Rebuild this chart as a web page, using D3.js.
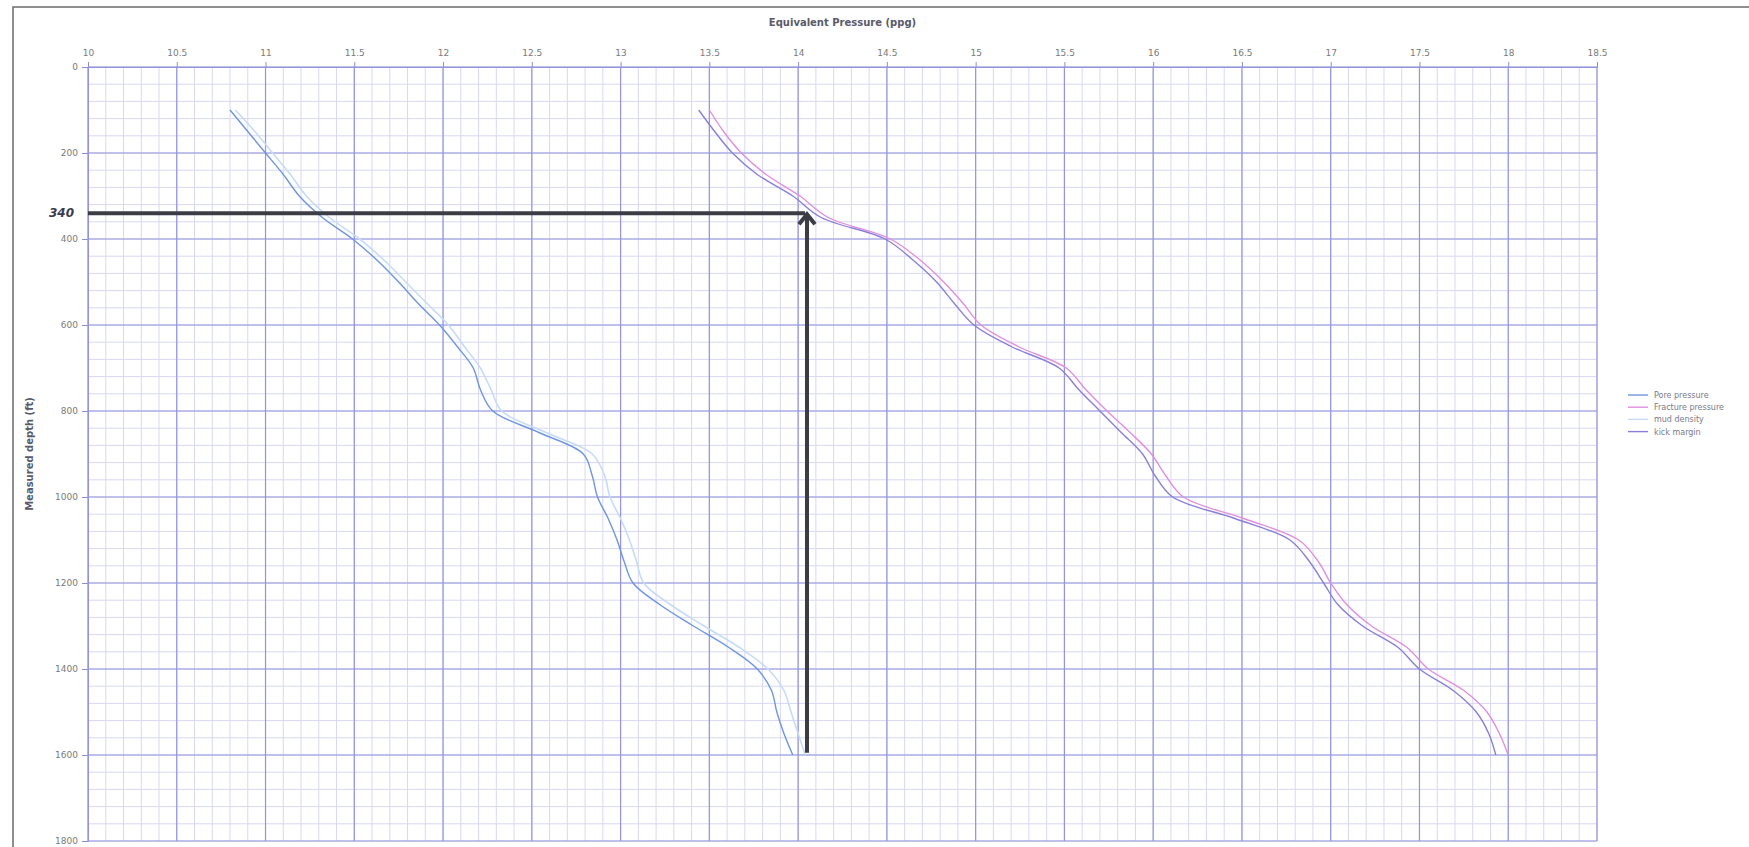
<!DOCTYPE html>
<html>
<head>
<meta charset="utf-8">
<script src="https://cdn.jsdelivr.net/npm/d3@7"></script>
<style>
  body { margin: 0; background: #fff; }
  text { font-family: "DejaVu Sans", sans-serif; }
</style>
</head>
<body>
<script>
// depth (ft) and the four series (ppg)
var depths = [100, 150, 200, 250, 300, 350, 400, 450, 500, 550, 600, 650, 700, 750, 800,
              850, 900, 950, 1000, 1050, 1100, 1150, 1200, 1250, 1300, 1350, 1400, 1450, 1500, 1550, 1600];
var porePressure = [10.80, 10.90, 11.00, 11.10, 11.19, 11.32, 11.49, 11.63, 11.75, 11.86, 11.98, 12.08, 12.17, 12.21, 12.28,
                    12.54, 12.79, 12.84, 12.87, 12.93, 12.98, 13.02, 13.07, 13.22, 13.41, 13.61, 13.77, 13.85, 13.88, 13.92, 13.97];
var mudDensity = [10.83, 10.94, 11.04, 11.14, 11.23, 11.36, 11.53, 11.67, 11.79, 11.91, 12.03, 12.12, 12.21, 12.27, 12.33,
                  12.58, 12.84, 12.91, 12.94, 13.00, 13.05, 13.09, 13.13, 13.28, 13.47, 13.67, 13.83, 13.92, 13.96, 14.00, 14.04];
var fracturePressure = [13.50, 13.58, 13.68, 13.82, 14.01, 14.17, 14.52, 14.69, 14.82, 14.93, 15.03, 15.24, 15.51, 15.62, 15.74,
                        15.87, 15.99, 16.07, 16.17, 16.51, 16.82, 16.93, 17.00, 17.09, 17.23, 17.43, 17.55, 17.75, 17.88, 17.95, 18.00];
var kickMargin = [13.44, 13.53, 13.63, 13.77, 13.97, 14.13, 14.49, 14.65, 14.78, 14.88, 14.99, 15.20, 15.47, 15.58, 15.70,
                  15.82, 15.94, 16.01, 16.11, 16.46, 16.77, 16.88, 16.96, 17.04, 17.18, 17.38, 17.50, 17.69, 17.82, 17.89, 17.93];

var seriesNames = ["Pore pressure", "Fracture pressure", "mud density", "kick margin"];
var seriesColors = ["#6f95e0", "#e08fe0", "#c6dbf6", "#8a7fd8"];

var xTickValues = [10, 10.5, 11, 11.5, 12, 12.5, 13, 13.5, 14, 14.5, 15, 15.5, 16, 16.5, 17, 17.5, 18, 18.5];
var yTickValues = [0, 200, 400, 600, 800, 1000, 1200, 1400, 1600, 1800];

// annotation: read-off at 340 ft
var markDepth = 340;
var markPressure = 14.05;
var markBottom = 1595;

var margin = { top: 67, left: 88, right: 152, bottom: 6 };
var W = 1749, H = 847;
var width = W - margin.left - margin.right;
var height = H - margin.top - margin.bottom;

var svg = d3.select("body").append("svg")
    .attr("width", W)
    .attr("height", H);

// outer chart frame
svg.append("rect")
    .attr("x", 13).attr("y", 7)
    .attr("width", W + 20).attr("height", H + 20)
    .attr("fill", "none")
    .attr("stroke", "#6a6a6a")
    .attr("stroke-width", 1.5);

var g = svg.append("g")
    .attr("transform", "translate(" + margin.left + "," + margin.top + ")");

var x = d3.scaleLinear().domain([10, 18.5]).range([0, width]);
var y = d3.scaleLinear().domain([0, 1800]).range([0, height]);

// minor grid
g.append("g").selectAll("line")
    .data(d3.range(0, 86).map(function(i) { return 10 + i * 0.1; }))
    .enter().append("line")
    .attr("x1", function(d) { return x(d); }).attr("x2", function(d) { return x(d); })
    .attr("y1", 0).attr("y2", height)
    .attr("stroke", "#d8d8f3").attr("stroke-width", 1);
g.append("g").selectAll("line")
    .data(d3.range(0, 46).map(function(i) { return i * 40; }))
    .enter().append("line")
    .attr("y1", function(d) { return y(d); }).attr("y2", function(d) { return y(d); })
    .attr("x1", 0).attr("x2", width)
    .attr("stroke", "#d8d8f3").attr("stroke-width", 1);

// major grid
g.append("g").selectAll("line")
    .data(xTickValues)
    .enter().append("line")
    .attr("x1", function(d) { return x(d); }).attr("x2", function(d) { return x(d); })
    .attr("y1", 0).attr("y2", height)
    .attr("stroke", "#9393e0").attr("stroke-width", 1.2);
g.append("g").selectAll("line")
    .data(yTickValues)
    .enter().append("line")
    .attr("y1", function(d) { return y(d); }).attr("y2", function(d) { return y(d); })
    .attr("x1", 0).attr("x2", width)
    .attr("stroke", "#9393e0").attr("stroke-width", 1.2);

// axes
var xAxis = g.append("g")
    .call(d3.axisTop(x).tickValues(xTickValues).tickSize(5).tickPadding(6).tickFormat(d3.format("")));
var yAxis = g.append("g")
    .call(d3.axisLeft(y).tickValues(yTickValues).tickSize(6).tickPadding(4).tickFormat(d3.format("")));
[xAxis, yAxis].forEach(function(a) {
    a.select(".domain").attr("stroke", "#9393e0");
    a.selectAll(".tick line").attr("stroke", "#8f8fcf");
    a.selectAll("text").attr("fill", "#7a7a7a").attr("font-size", 9)
        .attr("font-family", "DejaVu Sans");
});

// axis titles
svg.append("text")
    .attr("x", margin.left + width / 2).attr("y", 26)
    .attr("text-anchor", "middle")
    .attr("font-size", 10).attr("font-weight", "bold").attr("fill", "#5a5a6a")
    .text("Equivalent Pressure (ppg)");
svg.append("text")
    .attr("transform", "translate(33," + (margin.top + height / 2) + ") rotate(-90)")
    .attr("text-anchor", "middle")
    .attr("font-size", 10).attr("font-weight", "bold").attr("fill", "#5a5a6a")
    .text("Measured depth (ft)");

// series
var series = [porePressure, fracturePressure, mudDensity, kickMargin];
var line = d3.line()
    .x(function(d) { return x(d[1]); })
    .y(function(d) { return y(d[0]); })
    .curve(d3.curveCatmullRom);

// draw light lines first so darker ones sit on top
[2, 1, 3, 0].forEach(function(i) {
    g.append("path")
        .datum(depths.map(function(dp, k) { return [dp, series[i][k]]; }))
        .attr("fill", "none")
        .attr("stroke", seriesColors[i])
        .attr("stroke-width", i === 2 ? 1.6 : 1.4)
        .attr("d", line);
});

// read-off arrows
var ink = "#3c3c44";
g.append("line")
    .attr("x1", x(10)).attr("x2", x(markPressure) - 2)
    .attr("y1", y(markDepth)).attr("y2", y(markDepth))
    .attr("stroke", ink).attr("stroke-width", 4);
g.append("line")
    .attr("x1", x(markPressure)).attr("x2", x(markPressure))
    .attr("y1", y(markBottom)).attr("y2", y(markDepth) + 1)
    .attr("stroke", ink).attr("stroke-width", 4);
g.append("path")
    .attr("d", "M" + (x(markPressure) - 8) + "," + (y(markDepth) + 11) +
               "L" + x(markPressure) + "," + (y(markDepth) + 1) +
               "L" + (x(markPressure) + 8) + "," + (y(markDepth) + 11))
    .attr("fill", "none").attr("stroke", ink).attr("stroke-width", 4)
    .attr("stroke-linejoin", "miter");
svg.append("text")
    .attr("x", 74).attr("y", margin.top + y(markDepth) + 4)
    .attr("text-anchor", "end")
    .attr("font-size", 12).attr("font-style", "italic").attr("font-weight", "bold")
    .attr("fill", "#3c3c50")
    .text(markDepth);

// legend
var legend = svg.append("g").attr("transform", "translate(1628,395)");
seriesNames.forEach(function(name, i) {
    var row = legend.append("g").attr("transform", "translate(0," + (i * 12.2) + ")");
    row.append("line")
        .attr("x1", 0).attr("x2", 20).attr("y1", 0).attr("y2", 0)
        .attr("stroke", seriesColors[i]).attr("stroke-width", 1.4);
    row.append("text")
        .attr("x", 26).attr("y", 3)
        .attr("font-size", 8).attr("fill", "#7a7a8a")
        .text(name);
});
</script>
</body>
</html>
